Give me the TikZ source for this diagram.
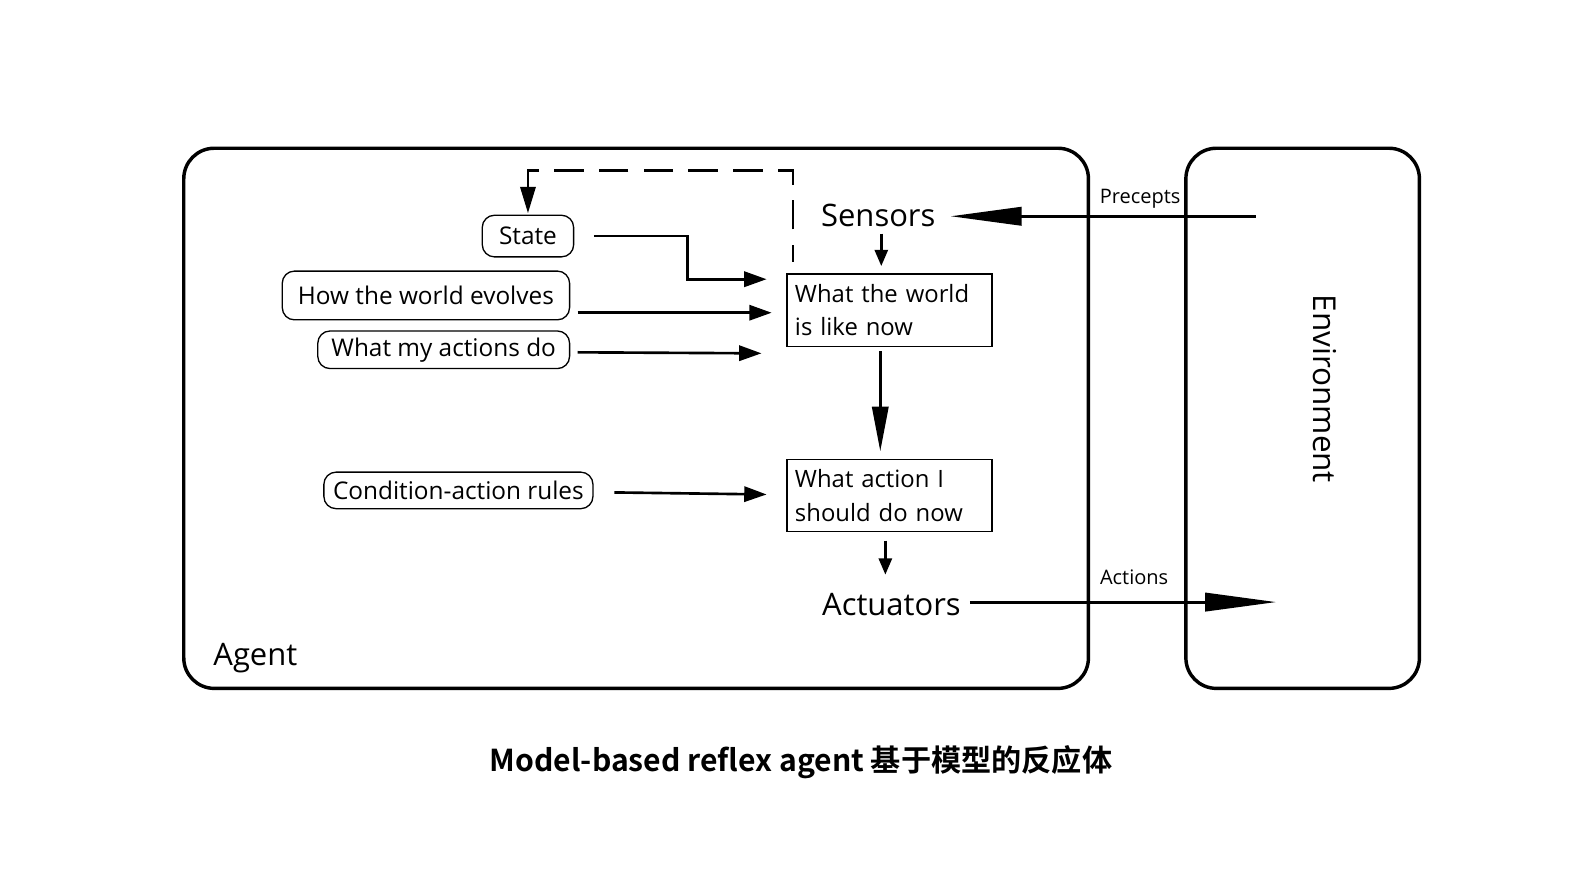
\documentclass[tikz,border=0pt]{standalone}
\usepackage{fontspec}
\setmainfont{Open Sans}
\newfontfamily\cjkbold{Noto Sans CJK SC Bold}
\usetikzlibrary{arrows.meta}
\begin{document}
\begin{tikzpicture}[x=1pt,y=-1pt,
  every node/.style={inner sep=0pt, outer sep=0pt},
  roundbox/.style={draw, line width=1.3pt, rounded corners=12pt, font=\fontsize{24}{29}\selectfont},
  sqbox/.style={draw, line width=1.3pt, inner sep=8pt, text width=186pt, minimum height=71pt, align=left, font=\fontsize{23.5}{33}\selectfont},
  frame/.style={draw, line width=3.4pt, rounded corners=30pt},
  arr/.style={line width=2.6pt, -{Triangle[length=22pt,width=15pt]}},
  smallarr/.style={line width=2.4pt, -{Triangle[length=16pt,width=13pt]}},
  midarr/.style={line width=2.6pt, -{Triangle[length=44pt,width=16pt]}},
  bigarr/.style={line width=2.8pt, -{Triangle[length=70pt,width=18pt]}},
  lbl/.style={font=\fontsize{30.5}{36}\selectfont},
  small/.style={font=\fontsize{19.7}{23}\selectfont},
]
\useasboundingbox (0,0) rectangle (1568,872.6);
\fill[white] (0,0) rectangle (1568,872.6);

% frames
\node[frame, minimum width=891pt, minimum height=532pt] (agent) at (626.5,412) {};
\node[frame, minimum width=230pt, minimum height=532pt] (env) at (1283,412) {};
\node[rotate=-90, font=\fontsize{31}{36}\selectfont] (envlabel) at (1305,383) {Environment};
\node[lbl] (agentlabel) at (251.5,648) {Agent};

% labels
\node[lbl] (sensors) at (865,212) {Sensors};
\node[lbl] (actuators) at (878,595) {Actuators};
\node[small] (precepts) at (1123,196) {Precepts};
\node[small] (actions) at (1117,569) {Actions};

% boxes
\node[roundbox, minimum width=90pt, minimum height=41pt] (state) at (520,232.5) {State};
\node[roundbox, minimum width=283pt, minimum height=48pt] (evolves) at (419.5,291) {How the world evolves};
\node[roundbox, minimum width=248pt, minimum height=37pt] (actdo) at (437,344.5) {What my actions do};
\node[roundbox, minimum width=265pt, minimum height=36pt] (rules) at (451.5,483) {Condition-action rules};
\node[sqbox] (world) at (876,305.5) {What the world\\is like now};
\node[sqbox] (action) at (876,488) {What action I\\should do now};

% title
\node[font=\cjkbold\fontsize{29.7}{34}\selectfont] (title) at (789,751) {Model-based reflex agent 基于模型的反应体};

% connectors
\coordinate (pin) at (1237,213);
\coordinate (aout) at (1257,593);
\draw[bigarr] (pin) -- ([xshift=15pt,yshift=-1pt]sensors.east);
\draw[bigarr] ([xshift=9pt,yshift=2pt]actuators.east) -- (aout);
\draw[smallarr] ([xshift=3pt,yshift=-7pt]sensors.south) -- ([xshift=-8pt,yshift=8pt]world.north);
\draw[midarr] ([xshift=-9pt,yshift=-5pt]world.south) -- ([xshift=-9pt,yshift=8pt]action.north);
\draw[smallarr] ([xshift=-4pt,yshift=-9pt]action.south) -- ([xshift=-6pt,yshift=18pt]actuators.north);
\draw[arr] ([xshift=20pt]state.east) -- ++(92,0) |- ([xshift=-20pt,yshift=30.5pt]world.west);
\draw[arr] ([xshift=8pt,yshift=-17pt]evolves.east) -- ([xshift=-15pt,yshift=-2.5pt]world.west);
\draw[arr] ([xshift=8pt,yshift=-2.5pt]actdo.east) -- ([xshift=-25pt,yshift=-42.5pt]world.west);
\draw[arr] ([xshift=21pt,yshift=-2pt]rules.east) -- ([xshift=-20pt,yshift=1pt]action.west);
\draw[line width=2.6pt, dash pattern=on 29pt off 15pt, dash phase=12pt, -{Triangle[length=26pt,width=15pt]}]
  ([xshift=6pt,yshift=12pt]world.north west) -- ++(0,-90) -| ([yshift=2pt]state.north);
\end{tikzpicture}
\end{document}
